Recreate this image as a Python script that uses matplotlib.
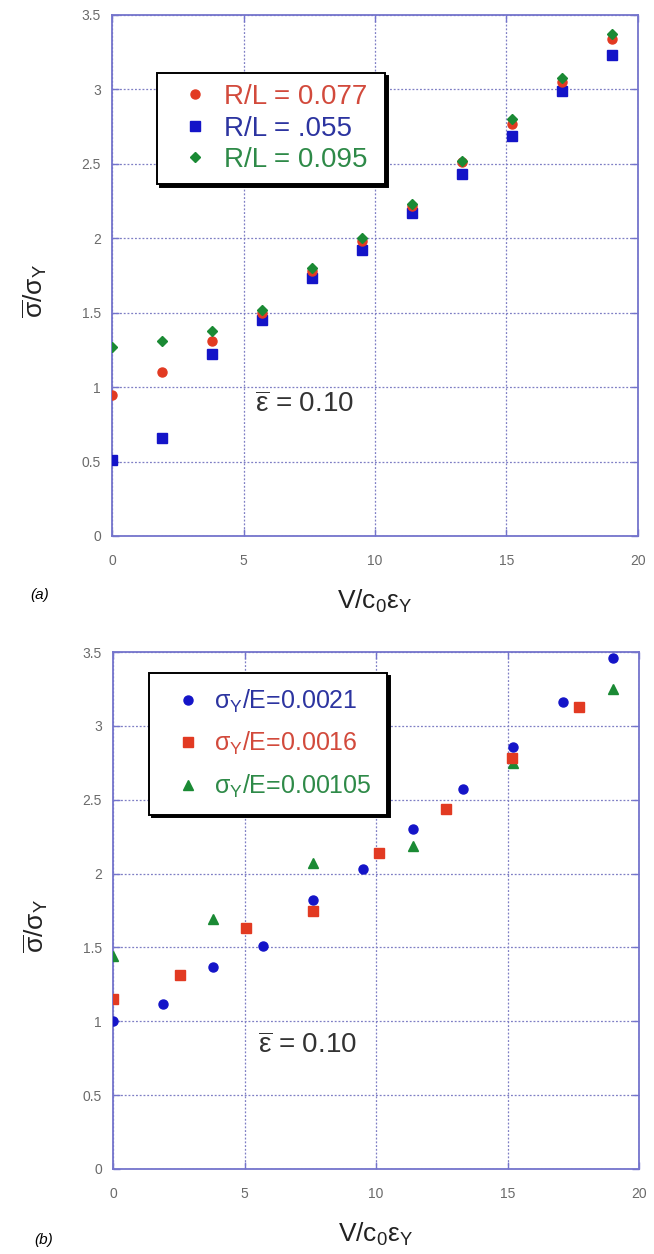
import matplotlib
matplotlib.use("Agg")
import matplotlib.pyplot as plt
from matplotlib.ticker import FixedLocator

plt.rcParams["font.family"] = ["Liberation Sans", "DejaVu Sans"]
plt.rcParams["mathtext.default"] = "regular"

# panel (a): effect of R/L
x_a = [0, 1.9, 3.8, 5.7, 7.6, 9.5, 11.4, 13.3, 15.2, 17.1, 19.0]
stress_rl_077 = [0.95, 1.10, 1.31, 1.50, 1.78, 1.98, 2.22, 2.51, 2.77, 3.05, 3.34]
stress_rl_055 = [0.51, 0.66, 1.22, 1.45, 1.73, 1.92, 2.17, 2.43, 2.69, 2.99, 3.23]
stress_rl_095 = [1.27, 1.31, 1.38, 1.52, 1.80, 2.00, 2.23, 2.52, 2.80, 3.08, 3.37]
labels_a = ["R/L = 0.077", "R/L = .055", "R/L = 0.095"]

# panel (b): effect of sigma_Y/E
x_b_0021 = [0, 1.9, 3.8, 5.7, 7.6, 9.5, 11.4, 13.3, 15.2, 17.1, 19.0]
stress_0021 = [1.00, 1.12, 1.37, 1.51, 1.82, 2.03, 2.30, 2.57, 2.86, 3.16, 3.46]
x_b_0016 = [0, 2.53, 5.06, 7.59, 10.12, 12.65, 15.18, 17.71]
stress_0016 = [1.15, 1.31, 1.63, 1.75, 2.14, 2.44, 2.78, 3.13]
x_b_00105 = [0, 3.8, 7.6, 11.4, 15.2, 19.0]
stress_00105 = [1.44, 1.69, 2.07, 2.19, 2.75, 3.25]
labels_b = [r"$\sigma_Y$/E=0.0021", r"$\sigma_Y$/E=0.0016", r"$\sigma_Y$/E=0.00105"]

x_ticks = [0, 5, 10, 15, 20]
y_ticks = [0, 0.5, 1, 1.5, 2, 2.5, 3, 3.5]
y_ticklabels = ["0", "0.5", "1", "1.5", "2", "2.5", "3", "3.5"]

RED = "#e23a22"
BLUE = "#1414c8"
GREEN = "#1a8a34"
AXIS_COLOR = "#7474cc"
GRID_COLOR = "#7e7ec4"

W, H = 654, 1254
fig = plt.figure(figsize=(W / 100, H / 100), dpi=100)


def fx(px):
    return px / W


def fy(py):
    return 1 - py / H


def style_axes(ax):
    ax.set_xlim(0, 20)
    ax.set_ylim(0, 3.5)
    ax.xaxis.set_major_locator(FixedLocator(x_ticks))
    ax.yaxis.set_major_locator(FixedLocator(y_ticks))
    ax.set_xticklabels([str(t) for t in x_ticks])
    ax.set_yticklabels(y_ticklabels)
    for s in ax.spines.values():
        s.set_color(AXIS_COLOR)
        s.set_linewidth(1.3)
    ax.grid(True, color=GRID_COLOR, linestyle=(0, (1.5, 1.5)), linewidth=0.9)
    ax.set_axisbelow(True)
    ax.tick_params(direction="in", length=5, width=1, color=AXIS_COLOR,
                   top=True, right=True, labelsize=10, labelcolor="#6a6a6a")
    ax.tick_params(axis="x", pad=13)
    ax.tick_params(axis="y", pad=8)
    ax.set_xlabel(r"V/c$_0\varepsilon_Y$", fontsize=19, color="#222222", labelpad=14)
    ax.set_ylabel(r"$\overline{\sigma}/\sigma_Y$", fontsize=19, color="#222222")
    ax.yaxis.set_label_coords(-0.12, 0.47)


def add_legend(ax, handles, labels, colors, box, fontsize, spacing, pad):
    x0, y0, x1, y1 = box
    leg = ax.legend(handles, labels, loc="upper left",
                    bbox_to_anchor=(fx(x0), fy(y1), fx(x1) - fx(x0), fy(y0) - fy(y1)),
                    bbox_transform=fig.transFigure, mode="expand",
                    borderaxespad=0, fontsize=fontsize, labelcolor=colors,
                    numpoints=1, handlelength=1.9, handletextpad=0.1,
                    labelspacing=spacing, borderpad=pad, fancybox=False,
                    framealpha=1, edgecolor="black",
                    shadow={"color": "black", "alpha": 1})
    leg.get_frame().set_linewidth(1.4)
    return leg


# (a)
ax_a = fig.add_axes([fx(112), fy(536), fx(638) - fx(112), fy(15) - fy(536)])
h_blue, = ax_a.plot(x_a, stress_rl_055, "s", color=BLUE, ms=7, zorder=3)
h_red, = ax_a.plot(x_a, stress_rl_077, "o", color=RED, ms=6.5, zorder=4)
h_green, = ax_a.plot(x_a, stress_rl_095, "D", color=GREEN, ms=4.8, zorder=5)
style_axes(ax_a)
add_legend(ax_a, [h_red, h_blue, h_green], labels_a, ["#d24a3c", "#2c34a0", "#2e8a48"],
           (157, 73, 385, 183), 20, 0.2, 0.4)
ax_a.text(5.45, 0.88, r"$\overline{\varepsilon}$ = 0.10", fontsize=20,
          color="#333333", ha="left", va="center")
fig.text(fx(40), fy(595), "(a)", fontsize=11, style="italic", ha="center", va="center")

# (b)
ax_b = fig.add_axes([fx(113), fy(1169), fx(639) - fx(113), fy(652) - fy(1169)])
g_green, = ax_b.plot(x_b_00105, stress_00105, "^", color=GREEN, ms=6.5, zorder=3)
g_red, = ax_b.plot(x_b_0016, stress_0016, "s", color=RED, ms=7, zorder=4)
g_blue, = ax_b.plot(x_b_0021, stress_0021, "o", color=BLUE, ms=6.5, zorder=5)
style_axes(ax_b)
add_legend(ax_b, [g_blue, g_red, g_green], labels_b, ["#2c34a0", "#d24a3c", "#2e8a48"],
           (149, 673, 387, 820), 18, 0.6, 0.6)
ax_b.text(5.5, 0.83, r"$\overline{\varepsilon}$ = 0.10", fontsize=20,
          color="#333333", ha="left", va="center")
fig.text(fx(44), fy(1240), "(b)", fontsize=11, style="italic", ha="center", va="center")

fig.savefig("out.png", dpi=100)
